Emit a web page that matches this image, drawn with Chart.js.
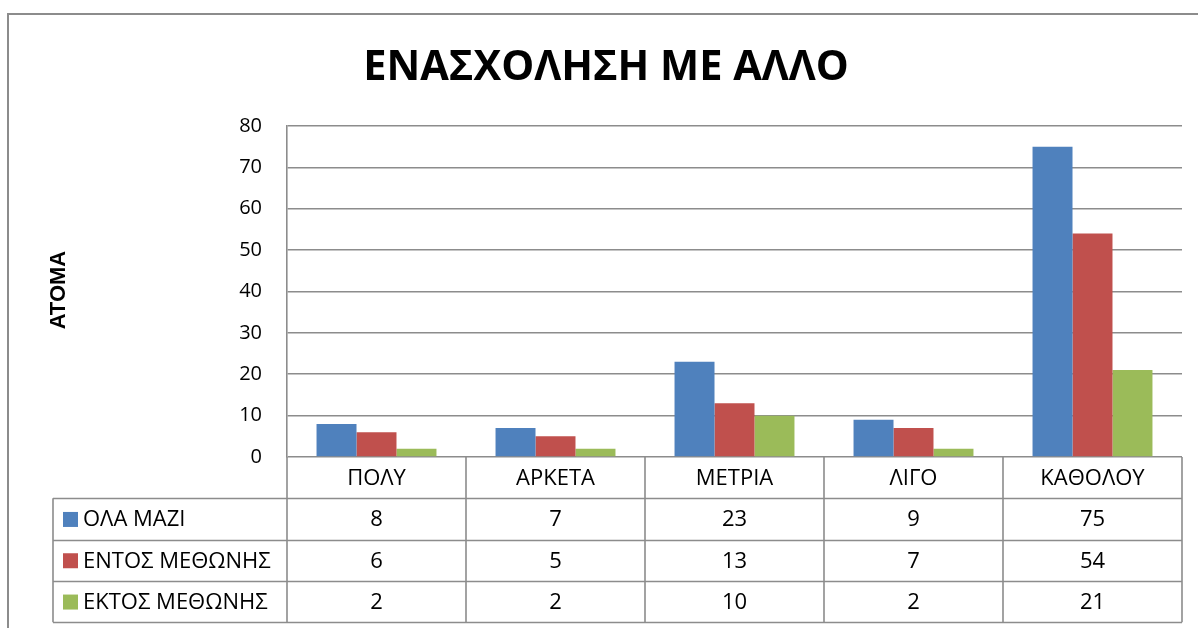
<!DOCTYPE html>
<html>
<head>
<meta charset="utf-8">
<script src="https://cdn.jsdelivr.net/npm/chart.js@4.4.1/dist/chart.umd.min.js"></script>
<style>
  html,body{margin:0;padding:0;background:#fff;}
  #wrap{position:relative;width:1198px;height:628px;}
  canvas{display:block;}
</style>
</head>
<body>
<div id="wrap"><canvas id="c" width="1198" height="628"></canvas></div>
<script>
const chartTitle = "ΕΝΑΣΧΟΛΗΣΗ ΜΕ ΑΛΛΟ";
const yAxisTitle = "ΑΤΟΜΑ";
const categories = ["ΠΟΛΥ", "ΑΡΚΕΤΑ", "ΜΕΤΡΙΑ", "ΛΙΓΟ", "ΚΑΘΟΛΟΥ"];
const seriesNames = ["ΟΛΑ ΜΑΖΙ", "ΕΝΤΟΣ ΜΕΘΩΝΗΣ", "ΕΚΤΟΣ ΜΕΘΩΝΗΣ"];
const olaMazi = [8, 7, 23, 9, 75];
const entosMethonis = [6, 5, 13, 7, 54];
const ektosMethonis = [2, 2, 10, 2, 21];
const yTicks = [0, 10, 20, 30, 40, 50, 60, 70, 80];
const seriesColors = ["#4F81BD", "#C0504D", "#9BBB59"];

const FONT = "'Open Sans', 'Noto Sans', 'DejaVu Sans', sans-serif";
const GRID = "#8c8c8c";
const seriesValues = [olaMazi, entosMethonis, ektosMethonis];

const tablePlugin = {
  id: 'tablePlugin',
  afterDraw(chart) {
    const ctx = chart.ctx;
    const x = chart.scales.x;
    const area = chart.chartArea;
    const n = categories.length;
    const colW = (area.right - area.left) / n;
    const rowH = 41.3;
    const top = area.bottom;
    const legLeft = 53;
    ctx.save();
    // outer border
    ctx.strokeStyle = GRID;
    ctx.lineWidth = 2;
    ctx.beginPath();
    ctx.moveTo(8, 628); ctx.lineTo(8, 14); ctx.lineTo(1198, 14);
    ctx.stroke();
    // table lines
    ctx.lineWidth = 1.6;
    ctx.strokeStyle = GRID;
    ctx.beginPath();
    for (let r = 1; r <= 4; r++) {
      const yy = Math.round(top + r * rowH) + 0.5;
      ctx.moveTo(legLeft, yy); ctx.lineTo(area.right, yy);
    }
    ctx.moveTo(legLeft, top + rowH); ctx.lineTo(legLeft, top + 4 * rowH);
    for (let i = 0; i <= n; i++) {
      const xx = area.left + i * colW;
      ctx.moveTo(xx, top); ctx.lineTo(xx, top + 4 * rowH);
    }
    ctx.stroke();
    // category labels
    ctx.fillStyle = "#000";
    ctx.font = "22px " + FONT;
    ctx.textAlign = "center";
    ctx.textBaseline = "middle";
    categories.forEach((c, i) => {
      const cx = x.getPixelForValue(i);
      ctx.fillText(c, cx, top + rowH / 2 + 1);
    });
    // series rows
    seriesNames.forEach((s, r) => {
      const cy = top + (r + 1) * rowH + rowH / 2 + 1;
      ctx.fillStyle = seriesColors[r];
      ctx.fillRect(63, cy - 8, 15, 15);
      ctx.fillStyle = "#000";
      ctx.textAlign = "left";
      ctx.fillText(s, 83, cy);
      ctx.textAlign = "center";
      seriesValues[r].forEach((v, i) => {
        ctx.fillText(String(v), x.getPixelForValue(i), cy);
      });
    });
    // y title
    ctx.save();
    ctx.translate(59, 290);
    ctx.rotate(-Math.PI / 2);
    ctx.font = "bold 22px 'Liberation Sans', Arial, sans-serif";
    ctx.textAlign = "center";
    ctx.textBaseline = "middle";
    ctx.fillText(yAxisTitle, 0, 0);
    ctx.restore();
    // chart title
    ctx.font = "bold 41.5px " + FONT;
    ctx.textAlign = "center";
    ctx.textBaseline = "middle";
    ctx.fillText(chartTitle, 606, 68);
    ctx.restore();
  }
};

new Chart(document.getElementById('c'), {
  type: 'bar',
  data: {
    labels: categories,
    datasets: seriesNames.map((name, i) => ({
      label: name,
      data: seriesValues[i],
      backgroundColor: seriesColors[i],
      borderWidth: 0,
      categoryPercentage: 0.67,
      barPercentage: 1.0
    }))
  },
  options: {
    responsive: false,
    animation: false,
    layout: { padding: { top: 126, bottom: 171, right: 16, left: 0 } },
    plugins: { legend: { display: false }, title: { display: false }, tooltip: { enabled: false } },
    scales: {
      x: { display: false },
      y: {
        min: 0, max: 80,
        afterFit(scale) { scale.width = 287; },
        afterBuildTicks(scale) { scale.ticks = yTicks.map(v => ({ value: v })); },
        grid: { color: GRID, lineWidth: 1.6, drawTicks: false, tickLength: 0 },
        border: { display: true, color: GRID, width: 1.6 },
        ticks: { color: "#000", font: { family: FONT, size: 20 }, padding: 25 }
      }
    }
  },
  plugins: [tablePlugin]
});
</script>
</body>
</html>
